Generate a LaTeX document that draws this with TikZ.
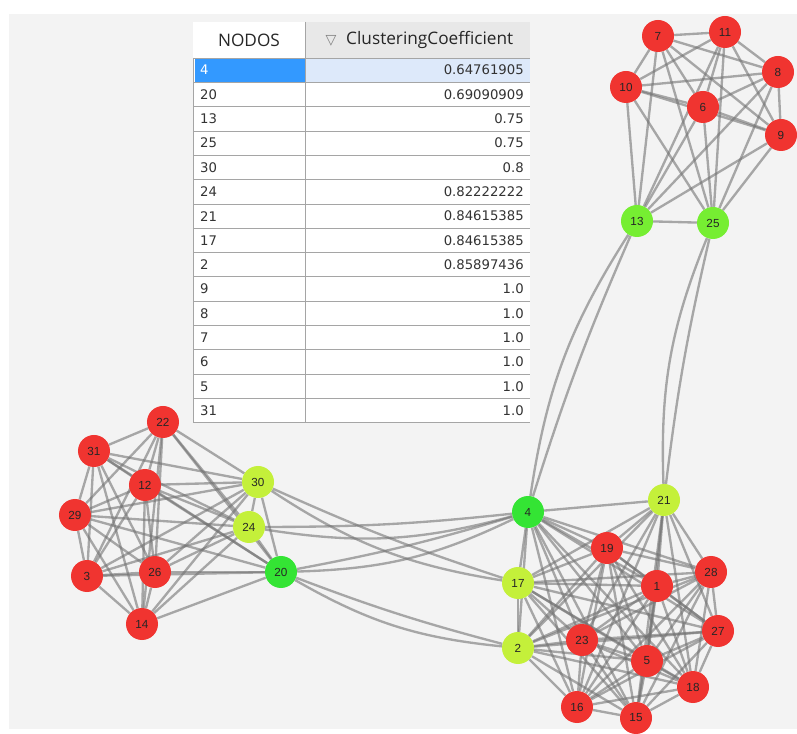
\documentclass[tikz,border=0pt]{standalone}
\usepackage{fontspec}
\setmainfont{DejaVu Sans}
\newfontfamily\numfont{Liberation Sans}
\newfontfamily\headfont{Open Sans}
\usetikzlibrary{backgrounds}
\definecolor{nred}{RGB}{240,52,48}
\definecolor{ngreen}{RGB}{52,228,52}
\definecolor{nlime}{RGB}{118,238,50}
\definecolor{nyellow}{RGB}{196,240,58}
\definecolor{linkgray}{RGB}{115,115,115}
\definecolor{bggray}{RGB}{243,243,243}
\definecolor{selblue}{RGB}{51,153,255}
\definecolor{selpale}{RGB}{221,233,250}
\definecolor{headgray}{RGB}{232,232,232}
\definecolor{rulegray}{RGB}{165,165,165}

\begin{document}
\begin{tikzpicture}[x=0.03cm,y=-0.03cm,
  vtx/.style={circle,minimum size=0.96cm,inner sep=0pt,text=black!85,
    font=\numfont\fontsize{10}{10}\selectfont},
  link/.style={draw=linkgray,line width=2pt,opacity=0.6},
  rule/.style={draw=rulegray,line width=0.8pt},
  cell/.style={inner sep=0pt,font=\fontsize{11.3}{12}\selectfont},
  head/.style={inner sep=0pt,font=\headfont\fontsize{14.7}{15}\selectfont,text=black!85}]

\foreach \n/\x/\y/\c in {7/658/36/nred,11/725/32/nred,8/778/72/nred,10/626/87/nred,
    6/703/107/nred,9/781/135/nred,13/637/221/nlime,25/713/223/nlime,
    22/163/422/nred,31/94/451/nred,12/145/485/nred,29/75/515/nred,30/258/482/nyellow,
    24/249/527/nyellow,3/87/576/nred,26/155/572/nred,20/281/572/ngreen,14/142/624/nred,
    4/528/512/ngreen,21/664/500/nyellow,19/607/548/nred,17/518/583/nyellow,1/657/586/nred,
    28/711/572/nred,27/718/631/nred,23/582/640/nred,2/518/648/nyellow,5/647/661/nred,
    18/693/687/nred,16/577/707/nred,15/636/718/nred}
  \node[vtx,fill=\c] (v\n) at (\x,\y) {\n};

\begin{scope}[on background layer]
  \fill[white] (0,0) rectangle (797,729);
  \fill[bggray] (9,14) rectangle (797,729);
  \foreach \grp in {{7,11,8,10,6,9,13,25},{22,31,12,29,30,24,3,26,20,14},
      {4,21,19,17,1,28,27,23,2,5,18,16,15}}
    \foreach \a [count=\i] in \grp
      \foreach \b [count=\j] in \grp {
        \ifnum\j>\i \draw[link] (v\a) -- (v\b);\fi
      }
  \foreach \a/\b in {13/4,25/21,30/17,24/4,20/4,20/2}
    \draw[link] (v\a) to[bend right=3] (v\b) (v\a) to[bend right=12] (v\b);
\end{scope}

\fill[white] (193,22) rectangle (305,58);
\fill[headgray] (305,22) rectangle (530,58);
\fill[white] (193,58) rectangle (530,423);
\fill[selblue] (195,58) rectangle (305,82.3);
\fill[selpale] (305,58) rectangle (530,82.3);
\node[head] (hnodos) at (249,40) {NODOS};
\node[inner sep=0pt,text=gray,font=\fontsize{12}{12}\selectfont] (hsort) at (331,41) {▽};
\node[head,anchor=west] (hcoef) at (346,40) {ClusteringCoefficient};
\draw[rule] (193,58) -- (530,58);
\draw[rule] (305,22) -- (305,423);
\draw[rule] (193,58) -- (193,423);
\foreach \k/\v [count=\r] in {4/0.64761905,20/0.69090909,13/0.75,25/0.75,30/0.8,
    24/0.82222222,21/0.84615385,17/0.84615385,2/0.85897436,9/1.0,8/1.0,7/1.0,
    6/1.0,5/1.0,31/1.0} {
  \ifnum\r=1 \def\tc{white}\else\def\tc{black!80}\fi
  \node[cell,anchor=west,text=\tc] (id\k) at (200,{58+24.33*\r-12.2}) {\k};
  \node[cell,anchor=east,text=black!80] (cc\k) at (524,{58+24.33*\r-12.2}) {\v};
  \draw[rule] (193,{58+24.33*\r}) -- (530,{58+24.33*\r});
}
\end{tikzpicture}
\end{document}
